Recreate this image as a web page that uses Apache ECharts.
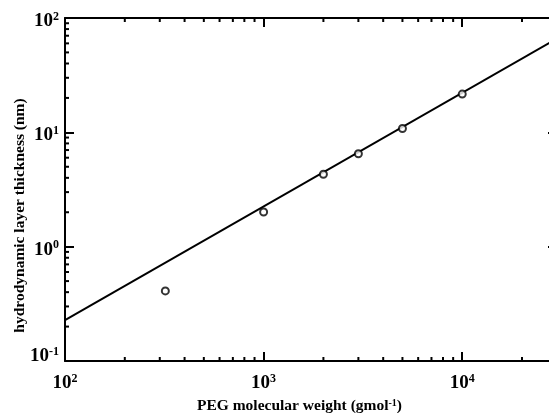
<!DOCTYPE html>
<html>
<head>
<meta charset="utf-8">
<script src="https://cdn.jsdelivr.net/npm/echarts@6/dist/echarts.min.js"></script>
<style>
html, body { margin: 0; padding: 0; background: #fff; }
#main { width: 549px; height: 413px; }
</style>
</head>
<body>
<div id="main"></div>
<script>
// measured points
var pegWeight = [320, 1000, 2000, 3000, 5000, 10000];
var layerThickness = [0.41, 2.01, 4.3, 6.5, 10.8, 21.6];

// fitted line (ends)
var fitWeight = [100, 30000];
var fitThickness = [0.228, 66];

// minor tick values
var xMinorTicks = [200, 300, 400, 500, 600, 700, 800, 900, 2000, 3000, 4000, 5000, 6000, 7000, 8000, 9000, 20000];
var yMinorTicks = [0.2, 0.3, 0.4, 0.5, 0.6, 0.7, 0.8, 0.9, 2, 3, 4, 5, 6, 7, 8, 9, 20, 30, 40, 50, 60, 70, 80, 90];

var xRange = [100, 30000];
var yRange = [0.1, 100];

var serif = "'Liberation Serif', 'Times New Roman', serif";

function powLabel(v) {
    var e = Math.round(Math.log(v) / Math.LN10);
    if (Math.abs(Math.pow(10, e) - v) > v * 1e-6) return '';
    // 10^-1 sits a bit higher in the original
    if (e < 0) return '{bm|10}{em|' + e + '}';
    return '{b|10}{e|' + e + '}';
}

var labelRich = {
    b: { fontFamily: serif, fontWeight: 'bold', fontSize: 19, color: '#000', verticalAlign: 'middle', padding: [6, 0, 0, 0] },
    e: { fontFamily: serif, fontWeight: 'bold', fontSize: 12, color: '#000', verticalAlign: 'middle', padding: [0, 0, 3, 0] },
    bm: { fontFamily: serif, fontWeight: 'bold', fontSize: 19, color: '#000', verticalAlign: 'middle', padding: [0, 0, 10, 0] },
    em: { fontFamily: serif, fontWeight: 'bold', fontSize: 12, color: '#000', verticalAlign: 'middle', padding: [0, 0, 19, 0] }
};

function logAxis(range, pos, showLabel, margin) {
    return {
        type: 'log',
        logBase: 10,
        min: range[0],
        max: range[1],
        position: pos,
        axisLine: { show: true, onZero: false, lineStyle: { color: '#000', width: 2 } },
        axisTick: { show: true, inside: true, length: 9, lineStyle: { color: '#000', width: 2 } },
        splitLine: { show: false },
        axisLabel: { show: showLabel, formatter: powLabel, rich: labelRich, margin: margin || 6 }
    };
}

var bottomAxis = logAxis(xRange, 'bottom', true, 7);
bottomAxis.name = 'PEG molecular weight (gmol{s|-1})';
bottomAxis.nameLocation = 'middle';
bottomAxis.nameGap = 37;
bottomAxis.nameMoveOverlap = false;
bottomAxis.nameTextStyle = {
    fontFamily: serif, fontWeight: 'bold', fontSize: 15.5, color: '#000', padding: [0, 23, 0, 0],
    rich: { s: { fontFamily: serif, fontWeight: 'bold', fontSize: 10, color: '#000', verticalAlign: 'top', lineHeight: 12 } }
};

var leftAxis = logAxis(yRange, 'left', true, 6);
leftAxis.name = 'hydrodynamic layer thickness (nm)';
leftAxis.nameLocation = 'middle';
leftAxis.nameGap = 37;
leftAxis.nameMoveOverlap = false;
leftAxis.nameTextStyle = { fontFamily: serif, fontWeight: 'bold', fontSize: 15.5, color: '#000', padding: [0, 52, 0, 0] };

function minorTicks(isX) {
    return {
        type: 'custom',
        silent: true,
        clip: false,
        renderItem: function (params, api) {
            var cs = params.coordSys;
            var len = 4;
            var lines = [];
            if (isX) {
                var px = api.coord([api.value(0), yRange[0]])[0];
                lines.push([px, cs.y + cs.height, px, cs.y + cs.height - len]);
                lines.push([px, cs.y, px, cs.y + len]);
            } else {
                var py = api.coord([xRange[0], api.value(1)])[1];
                lines.push([cs.x, py, cs.x + len, py]);
                lines.push([cs.x + cs.width, py, cs.x + cs.width - len, py]);
            }
            return {
                type: 'group',
                children: lines.map(function (l) {
                    return {
                        type: 'line',
                        shape: { x1: l[0], y1: l[1], x2: l[2], y2: l[3] },
                        style: { stroke: '#000', lineWidth: 2 }
                    };
                })
            };
        },
        data: isX ? xMinorTicks.map(function (v) { return [v, 1]; })
                  : yMinorTicks.map(function (v) { return [1000, v]; })
    };
}

var myChart = echarts.init(document.getElementById('main'));
var option = {
    backgroundColor: '#fff',
    animation: false,
    grid: { left: 65, top: 18, width: 492, height: 343, containLabel: false, outerBoundsMode: 'none' },
    xAxis: [bottomAxis, logAxis(xRange, 'top', false)],
    yAxis: [leftAxis, logAxis(yRange, 'right', false)],
    series: [
        {
            type: 'line',
            data: fitWeight.map(function (x, i) { return [x, fitThickness[i]]; }),
            symbol: 'none',
            lineStyle: { color: '#000', width: 2 },
            z: 2
        },
        {
            type: 'scatter',
            data: pegWeight.map(function (x, i) { return [x, layerThickness[i]]; }),
            symbol: 'circle',
            symbolSize: 7,
            itemStyle: { color: '#fff', borderColor: '#000', borderWidth: 2 },
            z: 3
        },
        minorTicks(true),
        minorTicks(false)
    ]
};
myChart.setOption(option);
</script>
</body>
</html>
